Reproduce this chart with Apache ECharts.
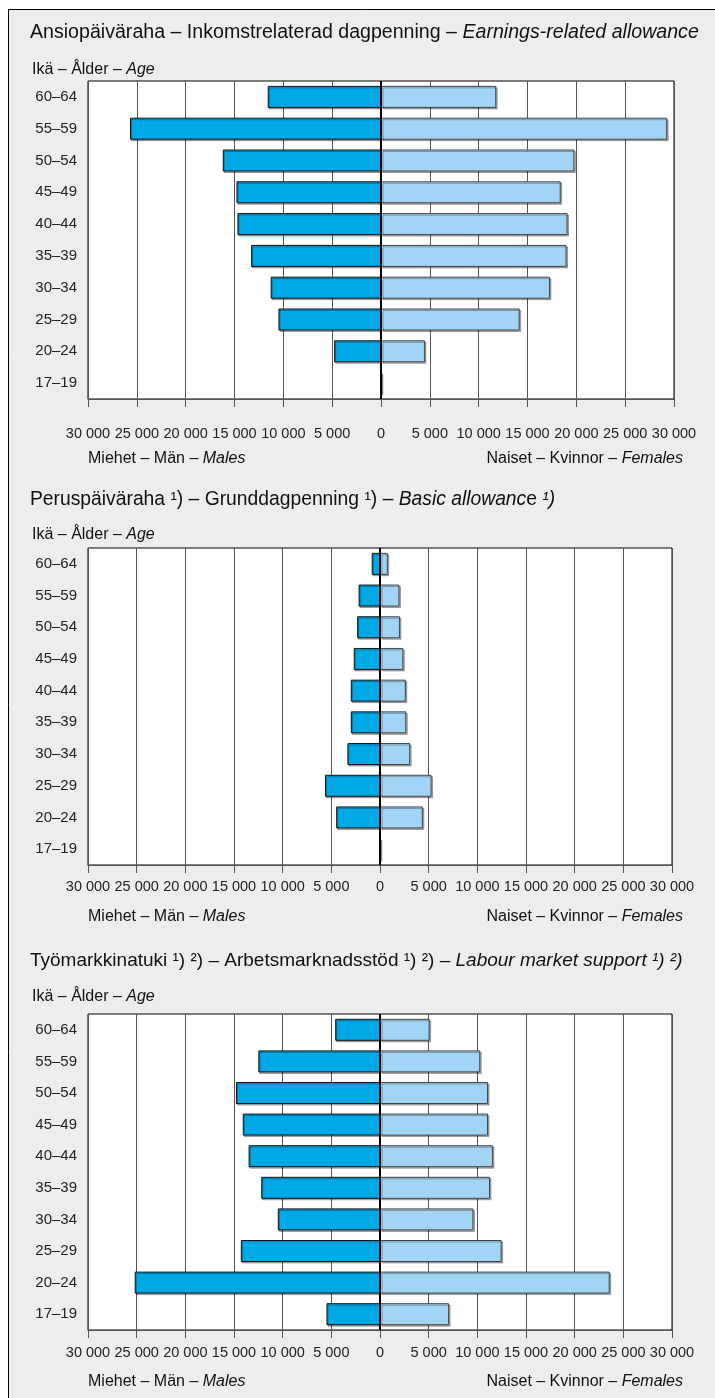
<!DOCTYPE html>
<html>
<head>
<meta charset="utf-8">
<script src="https://cdn.jsdelivr.net/npm/echarts@6/dist/echarts.min.js"></script>
<style>
html,body{margin:0;padding:0;background:#fff;}
#chart{width:715px;height:1398px;}
</style>
</head>
<body>
<div id="chart"></div>
<script>
// ---- data ----
const ages = ['60–64','55–59','50–54','45–49','40–44','35–39','30–34','25–29','20–24','17–19'];

const earningsMales   = [11600, 25700, 16200, 14800, 14700, 13300, 11300, 10500, 4800, 40];
const earningsFemales = [11800, 29300, 19800, 18400, 19100, 19000, 17300, 14200, 4500, 40];

const basicMales   = [850, 2200, 2350, 2700, 3000, 3000, 3350, 5650, 4500, 80];
const basicFemales = [800, 2000, 2050, 2400, 2650, 2700, 3100, 5300, 4400, 50];

const labourMales   = [4600, 12500, 14800, 14100, 13500, 12200, 10500, 14300, 25200, 5500];
const labourFemales = [5100, 10300, 11100, 11100, 11600, 11300, 9600, 12500, 23600, 7100];

const axisMin = -30000, axisMax = 30000, axisStep = 5000;

// ---- styles ----
const FONT = "'Liberation Sans', Arial, sans-serif";
const MALE = '#00a8e6';
const FEMALE = '#a2d5f5';
const GRIDC = '#555';

function fmt(v){
  const a = Math.abs(v);
  if (a >= 1000) return Math.floor(a/1000) + ' ' + String(a % 1000).padStart(3,'0');
  return String(a);
}

const grids = [
  {left: 88, width: 586, top: 81, height: 318},
  {left: 88, width: 584, top: 548, height: 317},
  {left: 88, width: 584, top: 1014, height: 316}
];
const labelMargins = [27, 14, 15];
const sets = [
  [earningsMales, earningsFemales],
  [basicMales, basicFemales],
  [labourMales, labourFemales]
];

const xAxes = [], yAxes = [], series = [];
grids.forEach((g, i) => {
  xAxes.push({
    gridIndex: i, type: 'value', min: axisMin, max: axisMax, interval: axisStep,
    axisLine: {show: true, onZero: false, lineStyle: {color: GRIDC, width: 1}},
    axisTick: {show: true, length: 8, lineStyle: {color: GRIDC, width: 1}},
    splitLine: {show: true, lineStyle: {color: GRIDC, width: 1}},
    axisLabel: {formatter: fmt, fontSize: 14.5, color: '#222', margin: labelMargins[i],
                fontFamily: FONT, showMinLabel: true, showMaxLabel: true, hideOverlap: false}
  });
  yAxes.push({
    gridIndex: i, type: 'category', data: ages, inverse: true,
    axisLine: {show: false}, axisTick: {show: false}, splitLine: {show: false},
    axisLabel: {fontSize: 15, color: '#222', margin: 11, fontFamily: FONT}
  });
  const [m, f] = sets[i];
  series.push({
    type: 'bar', xAxisIndex: i, yAxisIndex: i, name: 'Males',
    data: m.map(v => -v), barWidth: 22, barGap: '-100%', silent: true,
    itemStyle: {color: MALE, borderColor: '#111', borderWidth: 1,
      shadowColor: 'rgba(0,0,0,0.3)', shadowOffsetX: 1, shadowOffsetY: 1.5, shadowBlur: 0}
  });
  series.push({
    type: 'bar', xAxisIndex: i, yAxisIndex: i, name: 'Females',
    data: f, barWidth: 22, barGap: '-100%', silent: true,
    itemStyle: {color: FEMALE, borderColor: '#444', borderWidth: 1,
      shadowColor: 'rgba(0,0,0,0.3)', shadowOffsetX: 1.5, shadowOffsetY: 1.5, shadowBlur: 0},
    markLine: {silent: true, symbol: 'none', label: {show: false},
      lineStyle: {color: '#000', width: 2, type: 'solid'},
      data: [{xAxis: 0}]}
  });
});

const base = {fontFamily: FONT, color: '#111', fontWeight: 'normal'};
function mkRich(sz){
  return {
    n: Object.assign({fontSize: sz, lineHeight: 22}, base),
    i: Object.assign({fontSize: sz, lineHeight: 22, fontStyle: 'italic'}, base),
    s: Object.assign({fontSize: 16, lineHeight: 20}, base),
    si: Object.assign({fontSize: 16, lineHeight: 20, fontStyle: 'italic'}, base)
  };
}
function T(text, pos, sz){
  return Object.assign({text: text, padding: 0, itemGap: 0,
    textStyle: {fontWeight: 'normal', fontFamily: FONT, rich: mkRich(sz || 19)}}, pos);
}

const titles = [
  T('{n|Ansiopäiväraha – Inkomstrelaterad dagpenning – }{i|Earnings-related allowance}', {left: 30, top: 22}, 19.6),
  T('{s|Ikä – Ålder – }{si|Age}', {left: 32, top: 60}),
  T('{s|Miehet – Män – }{si|Males}', {left: 88, top: 449}),
  T('{s|Naiset – Kvinnor – }{si|Females}', {right: 32, top: 449}),

  T('{n|Peruspäiväraha ¹) – Grunddagpenning ¹) – }{i|Basic allowanc}{n|e}{i| ¹)}', {left: 30, top: 489}, 19.3),
  T('{s|Ikä – Ålder – }{si|Age}', {left: 32, top: 525}),
  T('{s|Miehet – Män – }{si|Males}', {left: 88, top: 907}),
  T('{s|Naiset – Kvinnor – }{si|Females}', {right: 32, top: 907}),

  T('{n|Työmarkkinatuki ¹) ²) – Arbetsmarknadsstöd ¹) ²) – }{i|Labour market support ¹) ²)}', {left: 30, top: 950}, 19),
  T('{s|Ikä – Ålder – }{si|Age}', {left: 32, top: 987}),
  T('{s|Miehet – Män – }{si|Males}', {left: 88, top: 1372}),
  T('{s|Naiset – Kvinnor – }{si|Females}', {right: 32, top: 1372})
];

const chart = echarts.init(document.getElementById('chart'), null, {renderer: 'canvas'});
chart.setOption({
  animation: false,
  textStyle: {fontFamily: FONT},
  graphic: [{
    type: 'rect', z: -100, silent: true,
    shape: {x: 8.5, y: 9.5, width: 800, height: 1500},
    style: {fill: '#ededed', stroke: '#000', lineWidth: 1}
  }],
  title: titles,
  grid: grids.map(g => Object.assign({show: true, backgroundColor: '#fff', borderColor: '#000', borderWidth: 1, containLabel: false}, g)),
  xAxis: xAxes,
  yAxis: yAxes,
  series: series
});
</script>
</body>
</html>
